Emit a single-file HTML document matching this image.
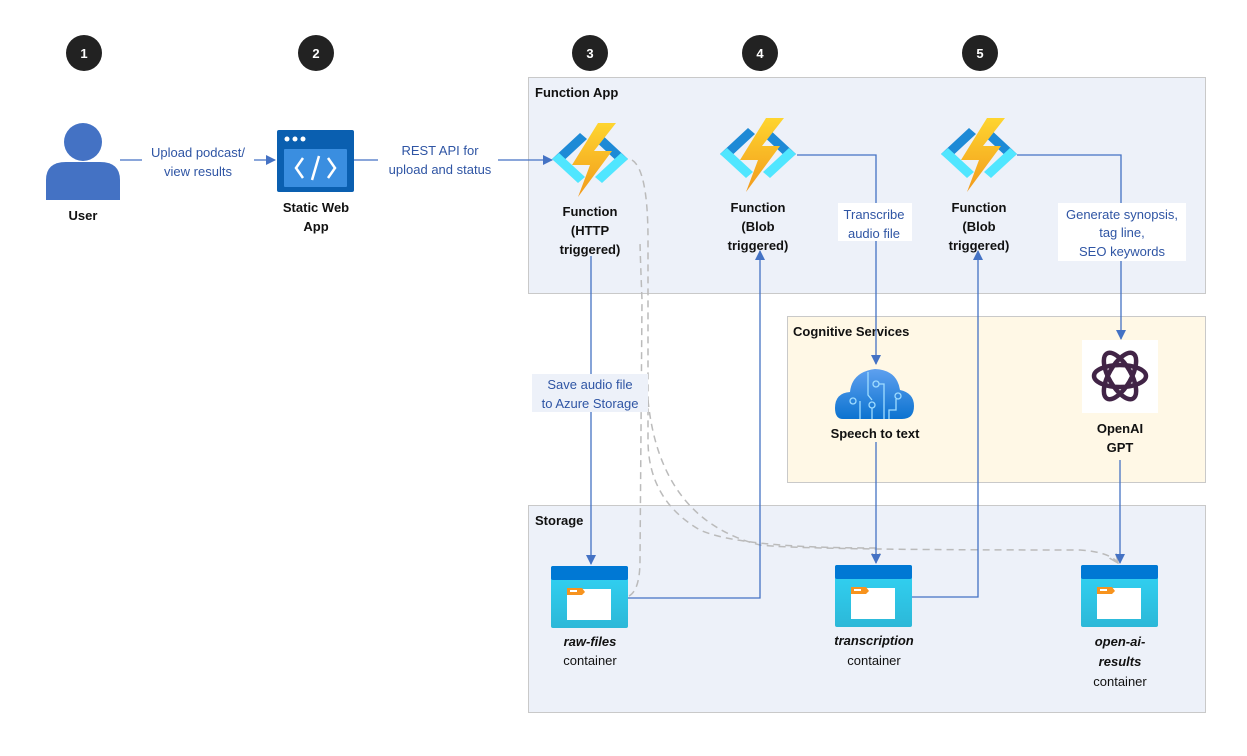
<!DOCTYPE html>
<html><head><meta charset="utf-8"><style>
html,body{margin:0;padding:0;background:#fff;}
svg text{font-family:"Liberation Sans",sans-serif;}
.b{font-weight:bold;font-size:13px;fill:#111;text-anchor:middle}
.l{font-size:13px;fill:#2f55a4;text-anchor:middle}
.c{font-size:13px;fill:#111;text-anchor:middle}
.n{font-weight:bold;font-size:13px;fill:#fff;text-anchor:middle}
</style></head><body>
<svg width="1247" height="751" viewBox="0 0 1247 751" xmlns="http://www.w3.org/2000/svg">
<defs>
<marker id="a" markerWidth="10" markerHeight="10" refX="9" refY="5" orient="auto" markerUnits="userSpaceOnUse"><path d="M0,0 L10,5 L0,10 z" fill="#4472c4"/></marker>
<marker id="g" markerWidth="10" markerHeight="10" refX="9" refY="5" orient="auto" markerUnits="userSpaceOnUse"><path d="M0,1 L9,5 L0,9" fill="none" stroke="#bbb" stroke-width="1.5"/></marker>
<linearGradient id="bolt" x1="0" y1="0" x2="0" y2="1"><stop offset="0" stop-color="#fed530"/><stop offset="1" stop-color="#f29a1b"/></linearGradient>
<linearGradient id="cont" x1="0" y1="0" x2="0" y2="1"><stop offset="0" stop-color="#32d4f5"/><stop offset="1" stop-color="#2cb8d8"/></linearGradient>
<linearGradient id="cloud" x1="0" y1="0" x2="0" y2="1"><stop offset="0" stop-color="#5ea0ef"/><stop offset="1" stop-color="#0c73d0"/></linearGradient>
<g id="fn">
<path d="M-10,-26 L-38,0 L-31,6 L-3,-20z" fill="#1e8ad6"/>
<path d="M-38,0 L-12,24 L-5,18 L-31,-6z" fill="#50e6ff"/>
<path d="M10,-26 L38,0 L31,6 L3,-20z" fill="#1e8ad6"/>
<path d="M38,0 L12,24 L5,18 L31,-6z" fill="#50e6ff"/>
<path d="M8,-36 L-18,6 L0,6 L-12,38 L22,-8 L4,-8 L26,-36z" fill="url(#bolt)"/>
</g>
<g id="ct">
<rect x="0" y="0" width="77" height="62" rx="2" fill="url(#cont)"/>
<rect x="0" y="0" width="77" height="14" rx="2" fill="#0078d4"/>
<rect x="16" y="23" width="44" height="31" fill="#fff"/>
<path d="M16,22 L31,22 L34,26 L31,29 L16,29z" fill="#f7931e"/>
<rect x="19" y="24" width="7" height="2" fill="#fff"/>
</g>
</defs>

<rect x="528.5" y="77.5" width="677" height="216" fill="#edf1f9" stroke="#c9c9c9"/>
<rect x="787.5" y="316.5" width="418" height="166" fill="#fff8e6" stroke="#c9c9c9"/>
<rect x="528.5" y="505.5" width="677" height="207" fill="#edf1f9" stroke="#c9c9c9"/>
<text x="535" y="97" style="font-weight:bold;font-size:13px;fill:#111">Function App</text>
<text x="793" y="336" style="font-weight:bold;font-size:13px;fill:#111">Cognitive Services</text>
<text x="535" y="525" style="font-weight:bold;font-size:13px;fill:#111">Storage</text>

<g>
<circle cx="84" cy="53" r="18" fill="#222"/><text class="n" x="84" y="58">1</text>
<circle cx="316" cy="53" r="18" fill="#222"/><text class="n" x="316" y="58">2</text>
<circle cx="590" cy="53" r="18" fill="#222"/><text class="n" x="590" y="58">3</text>
<circle cx="760" cy="53" r="18" fill="#222"/><text class="n" x="760" y="58">4</text>
<circle cx="980" cy="53" r="18" fill="#222"/><text class="n" x="980" y="58">5</text>
</g>

<circle cx="83" cy="142" r="19" fill="#4472c4"/>
<path d="M46,200 L46,180 Q46,162 66,162 L100,162 Q120,162 120,180 L120,200z" fill="#4472c4"/>
<text class="b" x="83" y="220">User</text>

<rect x="277" y="130" width="77" height="62" rx="2" fill="#0a5fb0"/>
<rect x="284" y="149" width="63" height="38" rx="1" fill="#3a8ee0"/>
<circle cx="287" cy="139" r="2.5" fill="#fff"/><circle cx="295" cy="139" r="2.5" fill="#fff"/><circle cx="303" cy="139" r="2.5" fill="#fff"/>
<path d="M303,158 L296,168 L303,178 M328,158 L335,168 L328,178 M319,156 L312,180" stroke="#fff" stroke-width="2.5" fill="none"/>
<text class="b" x="316" y="212">Static Web</text>
<text class="b" x="316" y="231">App</text>

<line x1="120" y1="160" x2="275" y2="160" stroke="#4472c4" stroke-width="1.3" marker-end="url(#a)"/>
<rect x="142" y="142" width="112" height="36" fill="#fff"/>
<text class="l" x="198" y="157">Upload podcast/</text>
<text class="l" x="198" y="176">view results</text>
<line x1="354" y1="160" x2="552" y2="160" stroke="#4472c4" stroke-width="1.3" marker-end="url(#a)"/>
<rect x="378" y="142" width="120" height="36" fill="#fff"/>
<text class="l" x="440" y="155">REST API for</text>
<text class="l" x="440" y="174">upload and status</text>

<use href="#fn" x="590" y="159"/>
<use href="#fn" x="758" y="154"/>
<use href="#fn" x="979" y="154"/>
<text class="b" x="590" y="216">Function</text><text class="b" x="590" y="235">(HTTP</text><text class="b" x="590" y="254">triggered)</text>
<text class="b" x="758" y="212">Function</text><text class="b" x="758" y="231">(Blob</text><text class="b" x="758" y="250">triggered)</text>
<text class="b" x="979" y="212">Function</text><text class="b" x="979" y="231">(Blob</text><text class="b" x="979" y="250">triggered)</text>

<path d="M632,160 Q648,170 648,240 L648,440 Q648,500 700,530 Q740,548 876,548 L876,562" stroke="#bbb" stroke-width="1.5" stroke-dasharray="7,5" fill="none" marker-end="url(#g)"/>
<path d="M648,400 Q660,520 760,545 Q800,550 1080,550 Q1110,552 1118,563" stroke="#bbb" stroke-width="1.5" stroke-dasharray="7,5" fill="none" marker-end="url(#g)"/>
<path d="M629,596 Q640,590 640,560 L642,300 Q640,250 640,240" stroke="#bbb" stroke-width="1.5" stroke-dasharray="7,5" fill="none"/>

<line x1="591" y1="256" x2="591" y2="564" stroke="#4472c4" stroke-width="1.3" marker-end="url(#a)"/>
<rect x="532" y="374" width="116" height="38" fill="#edf1f9"/>
<text class="l" x="590" y="389">Save audio file</text>
<text class="l" x="590" y="408">to Azure Storage</text>
<polyline points="628,598 760,598 760,251" stroke="#4472c4" stroke-width="1.3" fill="none" marker-end="url(#a)"/>
<polyline points="797,155 876,155 876,364" stroke="#4472c4" stroke-width="1.3" fill="none" marker-end="url(#a)"/>
<rect x="838" y="203" width="74" height="38" fill="#fff"/>
<text class="l" x="874" y="219">Transcribe</text>
<text class="l" x="874" y="238">audio file</text>
<line x1="876" y1="442" x2="876" y2="563" stroke="#4472c4" stroke-width="1.3" marker-end="url(#a)"/>
<polyline points="912,597 978,597 978,251" stroke="#4472c4" stroke-width="1.3" fill="none" marker-end="url(#a)"/>
<polyline points="1017,155 1121,155 1121,339" stroke="#4472c4" stroke-width="1.3" fill="none" marker-end="url(#a)"/>
<rect x="1058" y="203" width="128" height="58" fill="#fff"/>
<text class="l" x="1122" y="219">Generate synopsis,</text>
<text class="l" x="1122" y="237">tag line,</text>
<text class="l" x="1122" y="256">SEO keywords</text>
<line x1="1120" y1="460" x2="1120" y2="563" stroke="#4472c4" stroke-width="1.3" marker-end="url(#a)"/>

<path d="M843,419 Q835,419 835,408 Q835,393 850,392 Q852,372 875,369 Q897,370 900,390 Q914,393 914,406 Q914,419 902,419z" fill="url(#cloud)"/>
<g stroke="#9fdcff" stroke-width="1.3" fill="none">
<circle cx="876" cy="384" r="3"/><circle cx="898" cy="396" r="3"/><circle cx="853" cy="401" r="3"/><circle cx="872" cy="405" r="3"/>
<path d="M860,419 L860,401 M879,384 L884,384 L884,419 M896,399 L896,410 L889,410 L889,419 M872,408 L872,419 M868,372 L868,395 L872,400"/>
</g>
<text class="b" x="875" y="438">Speech to text</text>

<rect x="1082" y="340" width="76" height="73" fill="#fff"/>
<g transform="translate(1120,376)" stroke="#412446" stroke-width="4.5" fill="none">
<ellipse rx="26" ry="11" transform="rotate(0)"/>
<ellipse rx="26" ry="11" transform="rotate(60)"/>
<ellipse rx="26" ry="11" transform="rotate(120)"/>
</g>
<text class="b" x="1120" y="433">OpenAI</text>
<text class="b" x="1120" y="452">GPT</text>

<use href="#ct" x="551" y="566"/>
<use href="#ct" x="835" y="565"/>
<use href="#ct" x="1081" y="565"/>
<text class="b" x="590" y="646" font-style="italic">raw-files</text>
<text class="c" x="590" y="665">container</text>
<text class="b" x="874" y="645" font-style="italic">transcription</text>
<text class="c" x="874" y="665">container</text>
<text class="b" x="1120" y="646" font-style="italic">open-ai-</text>
<text class="b" x="1120" y="666" font-style="italic">results</text>
<text class="c" x="1120" y="686">container</text>
</svg>
</body></html>
